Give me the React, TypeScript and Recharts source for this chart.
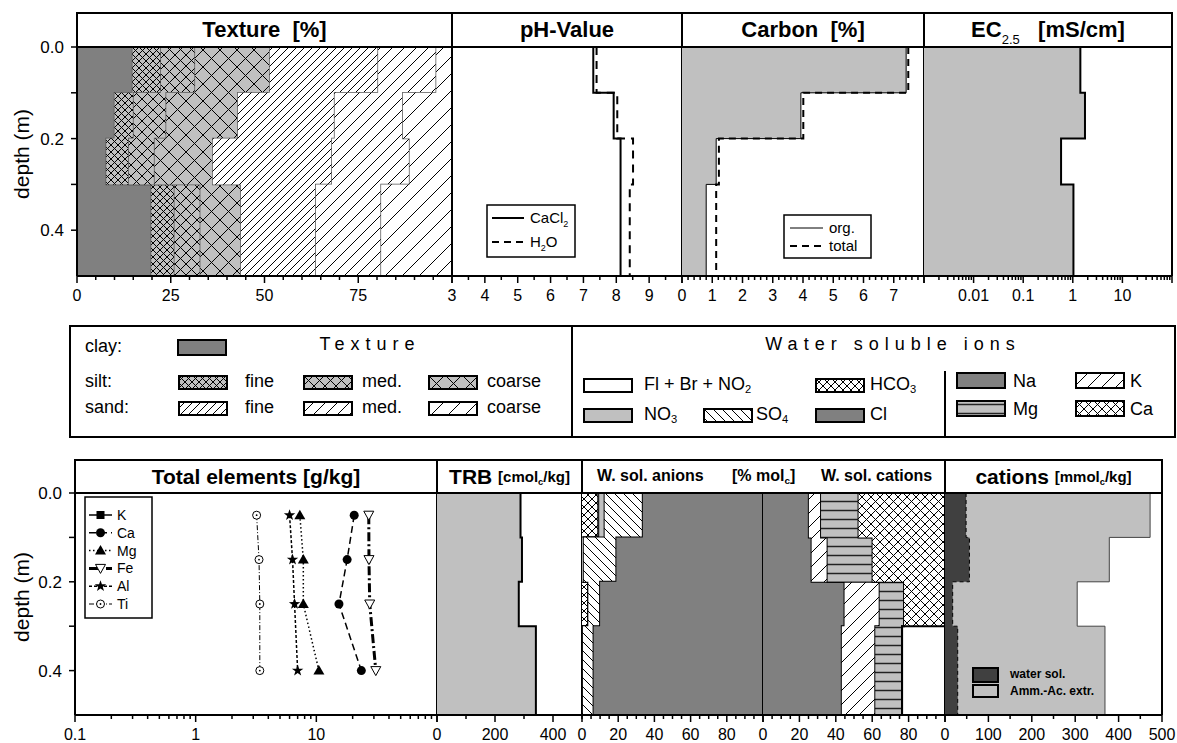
import React from "react";
import { ComposedChart, Area, Line, XAxis, YAxis } from "recharts";

const FONT = "'Liberation Sans', Arial, Helvetica, sans-serif";

// soil layers (m)
const layerTop = [0, 0.1, 0.2, 0.3];
const layerBottom = [0.1, 0.2, 0.3, 0.5];
const depthTicks = [0, 0.1, 0.2, 0.3, 0.4];
const depthLabels = [0, 0.2, 0.4];

// texture fractions [%] per layer
const clay = [14.8, 10.0, 7.8, 19.8];
const siltFine = [7.6, 5.1, 6.0, 6.2];
const siltMed = [9.1, 8.7, 6.9, 6.9];
const siltCoarse = [19.9, 19.1, 15.5, 10.8];
const sandFine = [28.9, 25.8, 31.8, 20.0];
const sandMed = [15.5, 18.2, 20.7, 17.4];
const sandCoarse = [4.2, 13.1, 11.3, 18.9];

// pH
const phCaCl2 = [7.3, 7.92, 8.13, 8.13];
const phH2O = [7.4, 8.03, 8.51, 8.41];

// carbon [%]
const carbonOrg = [7.41, 3.93, 1.13, 0.8];
const carbonTotal = [7.48, 4.01, 1.22, 1.13];

// EC 2.5 [mS/cm]
const ec25 = [1.42, 1.76, 0.58, 1.03];

// total elements [g/kg] at the sample depths
const elementDepth = [0.05, 0.15, 0.25, 0.4];
const elCa = [20.6, 18.0, 15.4, 23.6];
const elMg = [7.3, 7.8, 7.8, 10.5];
const elFe = [27.2, 27.3, 27.7, 31.1];
const elAl = [6.0, 6.35, 6.6, 7.0];
const elTi = [3.2, 3.35, 3.4, 3.4];

// TRB [cmolc/kg]
const trb = [288, 293, 282, 341];

// water soluble anions [% molc]
const anHCO3 = [9.0, 0, 3.5, 0];
const anFlBrNO2 = [0.5, 1.0, 0, 0.5];
const anNO3 = [3.0, 0, 0, 0];
const anSO4 = [21.1, 18.0, 6.5, 5.9];
const anCl = [66.4, 81.0, 90.0, 93.6];

// water soluble cations [% molc]
const catNa = [25.2, 26.7, 44.8, 43.3];
const catK = [6.7, 8.8, 19.3, 18.4];
const catMg = [20.6, 24.7, 13.4, 14.7];
const catCa = [47.5, 39.8, 22.5, 0];

// cations [mmolc/kg]
const cationWater = [48.6, 56.3, 17.7, 29.3];
const cationAmmAc = [472.6, 378.6, 304.6, 368.6];

// axis ticks
const textureMajors = [0, 25, 50, 75, 100];
const phMajors = [3, 4, 5, 6, 7, 8, 9, 10];
const carbonMajors = [0, 1, 2, 3, 4, 5, 6, 7, 8];
const ecDecades = [0.001, 0.01, 0.1, 1, 10, 100];
const elementDecades = [0.1, 1, 10, 100];
const trbMajors = [0, 200, 400];
const pctMajors = [0, 20, 40, 60, 80, 100];
const cationMajors = [0, 100, 200, 300, 400, 500];

const near = (a: number, b: number) =>
  Math.abs(a - b) <= 1e-9 * Math.max(1, Math.abs(a), Math.abs(b));

const steps = (a: number, b: number, d: number) => {
  const out: number[] = [];
  const n = Math.round((b - a) / d);
  for (let i = 0; i <= n; i++) out.push(Math.round((a + i * d) * 1e6) / 1e6);
  return out;
};

const logSteps = (decades: number[]) =>
  decades.flatMap((d, i) =>
    i === decades.length - 1
      ? [d]
      : [1, 2, 3, 4, 5, 6, 7, 8, 9].map((m) => Number((d * m).toPrecision(6)))
  );

// each layer becomes two rows (top and bottom) so the profile is drawn as steps
function stepRows(cols: Record<string, number[]>) {
  const rows: Record<string, number>[] = [];
  layerTop.forEach((top, i) => {
    const v: Record<string, number> = {};
    Object.keys(cols).forEach((k) => (v[k] = cols[k][i]));
    rows.push({ depth: top, ...v }, { depth: layerBottom[i], ...v });
  });
  return rows;
}

const textureRows = stepRows({ clay, siltFine, siltMed, siltCoarse, sandFine, sandMed, sandCoarse });
const phRows = stepRows({ cacl2: phCaCl2, h2o: phH2O });
const carbonRows = stepRows({ org: carbonOrg, total: carbonTotal });
const ecRows = stepRows({ ec: ec25 });
const trbRows = stepRows({ trb });
const anionRows = stepRows({ hco3: anHCO3, fl: anFlBrNO2, no3: anNO3, so4: anSO4, cl: anCl });
const cationRows = stepRows({ na: catNa, k: catK, mg: catMg, ca: catCa });
const mmolRows = stepRows({ water: cationWater, ammac: cationAmmAc });
const elementRows = elementDepth.map((depth, i) => ({
  depth,
  Ca: elCa[i],
  Mg: elMg[i],
  Fe: elFe[i],
  Al: elAl[i],
  Ti: elTi[i],
}));

const texturePatterns: [string, string][] = [
  ["clay", "#808080"],
  ["siltFine", "url(#silt-f)"],
  ["siltMed", "url(#silt-m)"],
  ["siltCoarse", "url(#silt-c)"],
  ["sandFine", "url(#sand-f)"],
  ["sandMed", "url(#sand-m)"],
  ["sandCoarse", "url(#sand-c)"],
];

const anionFills: [string, string][] = [
  ["hco3", "url(#cross-w)"],
  ["fl", "#ffffff"],
  ["no3", "#c0c0c0"],
  ["so4", "url(#back-w)"],
  ["cl", "#808080"],
];

const cationFills: [string, string][] = [
  ["na", "#808080"],
  ["k", "url(#fwd-k)"],
  ["mg", "url(#horiz-mg)"],
  ["ca", "url(#cross-ca)"],
];

function Hatch({ id, s, bg, kind, sw = 1, stroke = "#000" }: { id: string; s: number; bg: string; kind: string; sw?: number; stroke?: string }) {
  const fwd = `M0,${s} L${s},0 M-1,1 L1,-1 M${s - 1},${s + 1} L${s + 1},${s - 1}`;
  const back = `M0,0 L${s},${s} M-1,${s - 1} L1,${s + 1} M${s - 1},-1 L${s + 1},1`;
  const horiz = `M0,${s / 2} L${s},${s / 2}`;
  const d = kind === "fwd" ? fwd : kind === "back" ? back : kind === "cross" ? `${fwd} ${back}` : horiz;
  return (
    <pattern id={id} patternUnits="userSpaceOnUse" width={s} height={s}>
      <rect width={s} height={s} fill={bg} />
      <path d={d} stroke={stroke} strokeWidth={sw} fill="none" />
    </pattern>
  );
}

function PatternDefs() {
  return (
    <svg width={0} height={0} style={{ position: "absolute" }}>
      <defs>
        <Hatch id="silt-f" s={7} bg="#c0c0c0" kind="cross" />
        <Hatch id="silt-m" s={11} bg="#c0c0c0" kind="cross" />
        <Hatch id="silt-c" s={17} bg="#c0c0c0" kind="cross" />
        <Hatch id="sand-f" s={8} bg="#ffffff" kind="fwd" />
        <Hatch id="sand-m" s={12} bg="#ffffff" kind="fwd" />
        <Hatch id="sand-c" s={17} bg="#ffffff" kind="fwd" />
        <Hatch id="cross-w" s={8} bg="#ffffff" kind="cross" />
        <Hatch id="back-w" s={9} bg="#ffffff" kind="back" />
        <Hatch id="fwd-k" s={14} bg="#ffffff" kind="fwd" />
        <Hatch id="horiz-mg" s={9} bg="#c0c0c0" kind="horiz" sw={1.5} stroke="#222" />
        <Hatch id="cross-ca" s={9} bg="#ffffff" kind="cross" />
        <Hatch id="lg-cross" s={8} bg="#ffffff" kind="cross" />
      </defs>
    </svg>
  );
}

const PAD = 18;
const Y_W = 60;
const X_H = 34;
const TOP = 14;

type PanelProps = {
  x0: number;
  x1: number;
  y0: number;
  y1: number;
  data: object[];
  domain: [number, number];
  log?: boolean;
  ticks: number[];
  majors: number[];
  label: (v: number) => string;
  depthAxis?: boolean;
  children: React.ReactNode;
};

function Panel({ x0, x1, y0, y1, data, domain, log, ticks, majors, label, depthAxis, children }: PanelProps) {
  const left = depthAxis ? PAD + Y_W : PAD;
  const width = x1 - x0 + left + PAD;
  const height = y1 - y0 + TOP + X_H;
  const renderTick = (p: any) => {
    const v = p.payload.value;
    const major = majors.some((m) => near(m, v));
    const text = major ? label(v) : "";
    return (
      <g key={`t-${p.index}`}>
        <line x1={p.x} x2={p.x} y1={p.y} y2={p.y + (major ? 7 : 4)} stroke="#000" strokeWidth={1.5} />
        {text && (
          <text x={p.x} y={p.y + 25} textAnchor="middle" fontSize={16} fontFamily={FONT} fill="#000">
            {text}
          </text>
        )}
      </g>
    );
  };
  return (
    <>
      <div style={{ position: "absolute", left: x0 - left, top: y0 - TOP }}>
        <ComposedChart
          layout="vertical"
          width={width}
          height={height}
          data={data}
          margin={{ top: TOP, right: PAD, bottom: 0, left: PAD }}
        >
          <XAxis
            type="number"
            scale={log ? "log" : "linear"}
            domain={domain}
            allowDataOverflow
            ticks={ticks}
            interval={0}
            tick={renderTick}
            tickLine={false}
            tickSize={0}
            tickMargin={0}
            height={X_H}
            axisLine={{ stroke: "#000", strokeWidth: 2 }}
          />
          <YAxis
            type="number"
            dataKey="depth"
            domain={[0, 0.5]}
            allowDataOverflow
            ticks={depthTicks}
            interval={0}
            width={depthAxis ? Y_W : 0}
            mirror={!depthAxis}
            tickSize={depthAxis ? 6 : 4}
            tickMargin={7}
            tickFormatter={(v: number) =>
              depthAxis && depthLabels.some((d) => near(d, v)) ? v.toFixed(1) : ""
            }
            tick={{ fontSize: 17, fill: "#000", fontFamily: FONT }}
            tickLine={{ stroke: "#000", strokeWidth: 1.5 }}
            axisLine={{ stroke: "#000", strokeWidth: 2 }}
          />
          {children}
        </ComposedChart>
      </div>
      <div style={{ position: "absolute", left: x1 - 1, top: y0, width: 2, height: y1 - y0, background: "#000" }} />
    </>
  );
}

function TitleBox({ x0, x1, y0, y1, children, size = 22 }: { x0: number; x1: number; y0: number; y1: number; children?: React.ReactNode; size?: number }) {
  return (
    <div
      style={{
        position: "absolute",
        left: x0 - 1,
        top: y0 - 1,
        width: x1 - x0 + 2,
        height: y1 - y0 + 2,
        boxSizing: "border-box",
        border: "2px solid #000",
        display: "flex",
        alignItems: "center",
        justifyContent: "center",
        fontWeight: 700,
        fontSize: size,
        whiteSpace: "pre",
        lineHeight: 1,
      }}
    >
      {children}
    </div>
  );
}

function Txt({ x, cy, size = 18, bold, spacing, center, children }: { x: number; cy: number; size?: number; bold?: boolean; spacing?: number; center?: boolean; children: React.ReactNode }) {
  return (
    <div
      style={{
        position: "absolute",
        left: x,
        top: cy,
        transform: center ? "translate(-50%, -55%)" : "translateY(-55%)",
        fontSize: size,
        fontWeight: bold ? 700 : 400,
        letterSpacing: spacing,
        whiteSpace: "pre",
        lineHeight: 1,
      }}
    >
      {children}
    </div>
  );
}

function Swatch({ x, y, fill, w = 50, h = 15 }: { x: number; y: number; fill: string; w?: number; h?: number }) {
  return (
    <svg width={w} height={h} style={{ position: "absolute", left: x, top: y }}>
      <rect x={1} y={1} width={w - 2} height={h - 2} fill={fill} stroke="#000" strokeWidth={2} />
    </svg>
  );
}

const sub = (t: string) => (
  <sub style={{ fontSize: "0.62em", verticalAlign: "-0.3em", lineHeight: 0 }}>{t}</sub>
);

function Marker({ kind, cx, cy }: { kind: string; cx: number; cy: number }) {
  if (kind === "K") return <rect x={cx - 4} y={cy - 4} width={8} height={8} fill="#000" />;
  if (kind === "Ca") return <circle cx={cx} cy={cy} r={4.5} fill="#000" />;
  if (kind === "Mg")
    return <path d={`M${cx},${cy - 5.5} L${cx + 5.5},${cy + 4} L${cx - 5.5},${cy + 4} Z`} fill="#000" />;
  if (kind === "Fe")
    return (
      <path
        d={`M${cx - 5},${cy - 4} L${cx + 5},${cy - 4} L${cx},${cy + 5} Z`}
        fill="#fff"
        stroke="#000"
        strokeWidth={1}
      />
    );
  if (kind === "Al") {
    const pts = Array.from({ length: 10 }, (_, i) => {
      const r = i % 2 ? 2.4 : 6;
      const a = ((-90 + i * 36) * Math.PI) / 180;
      return `${cx + r * Math.cos(a)},${cy + r * Math.sin(a)}`;
    });
    return <polygon points={pts.join(" ")} fill="#000" />;
  }
  return (
    <g>
      <circle cx={cx} cy={cy} r={4} fill="#fff" stroke="#000" strokeWidth={1} />
      <circle cx={cx} cy={cy} r={0.9} fill="#000" />
    </g>
  );
}

const elementStyles: { key: string; dash?: string; width: number }[] = [
  { key: "K", width: 1.5 },
  { key: "Ca", dash: "7 4", width: 1.5 },
  { key: "Mg", dash: "1.5 2.5", width: 1.5 },
  { key: "Fe", dash: "9 3 2 3", width: 3 },
  { key: "Al", dash: "3 2", width: 1.5 },
  { key: "Ti", dash: "5 2 1 2", width: 1 },
];

export default function App() {
  const textureTicks = steps(0, 100, 5);
  const phTicks = steps(3, 10, 0.5);
  const carbonTicks = steps(0, 8, 0.2);
  const ecTicks = logSteps(ecDecades);
  const elementTicks = logSteps(elementDecades);
  const trbTicks = steps(0, 500, 100);
  const pctTicks = steps(0, 100, 5);
  const mmolTicks = steps(0, 500, 50);

  return (
    <div
      style={{
        position: "absolute",
        left: 0,
        top: 0,
        width: 1177,
        height: 743,
        background: "#fff",
        fontFamily: FONT,
        color: "#000",
        overflow: "hidden",
      }}
    >
      <PatternDefs />

      {/* ---------- top row ---------- */}
      <Panel x0={77} x1={452} y0={47} y1={276} data={textureRows} domain={[0, 100]} ticks={textureTicks} majors={textureMajors} label={(v) => (v === 100 ? "" : String(v))} depthAxis>
        {texturePatterns.map(([key, fill]) => (
          <Area key={key} dataKey={key} stackId="tex" type="linear" fill={fill} fillOpacity={1} stroke="#555" strokeWidth={1.5} dot={false} activeDot={false} isAnimationActive={false} />
        ))}
      </Panel>

      <Panel x0={452} x1={682} y0={47} y1={276} data={phRows} domain={[3, 10]} ticks={phTicks} majors={phMajors} label={(v) => (v === 10 ? "" : String(v))}>
        <Line dataKey="cacl2" type="linear" stroke="#000" strokeWidth={2} dot={false} activeDot={false} isAnimationActive={false} />
        <Line dataKey="h2o" type="linear" stroke="#000" strokeWidth={2} strokeDasharray="8 6" dot={false} activeDot={false} isAnimationActive={false} />
      </Panel>

      <Panel x0={682} x1={924} y0={47} y1={276} data={carbonRows} domain={[0, 8]} ticks={carbonTicks} majors={carbonMajors} label={(v) => (v === 8 ? "" : String(v))}>
        <Area dataKey="org" type="linear" fill="#c0c0c0" fillOpacity={1} stroke="#000" strokeWidth={1} dot={false} activeDot={false} isAnimationActive={false} />
        <Line dataKey="total" type="linear" stroke="#000" strokeWidth={2} strokeDasharray="7 5" dot={false} activeDot={false} isAnimationActive={false} />
      </Panel>

      <Panel x0={924} x1={1172} y0={47} y1={276} data={ecRows} domain={[0.001, 100]} log ticks={ecTicks} majors={ecDecades} label={(v) => (v === 0.001 || v === 100 ? "" : String(v))}>
        <Area dataKey="ec" type="linear" fill="#c0c0c0" fillOpacity={1} stroke="#000" strokeWidth={2} dot={false} activeDot={false} isAnimationActive={false} />
      </Panel>

      <TitleBox x0={77} x1={452} y0={13} y1={47}>Texture  [%]</TitleBox>
      <TitleBox x0={452} x1={682} y0={13} y1={47}>pH-Value</TitleBox>
      <TitleBox x0={682} x1={924} y0={13} y1={47}>Carbon  [%]</TitleBox>
      <TitleBox x0={924} x1={1172} y0={13} y1={47}>
        <span>EC</span>
        <span style={{ fontSize: 13, position: "relative", top: 9, fontWeight: 400 }}>2.5</span>
        <span>   [mS/cm]</span>
      </TitleBox>

      <Txt x={21} cy={155} size={21} center>
        <div style={{ transform: "rotate(-90deg)" }}>depth (m)</div>
      </Txt>

      {/* pH legend */}
      <svg width={90} height={54} style={{ position: "absolute", left: 486, top: 204 }}>
        <rect x={1} y={1} width={88} height={52} fill="#fff" stroke="#000" strokeWidth={1.5} />
        <line x1={6} x2={38} y1={14} y2={14} stroke="#000" strokeWidth={2} />
        <text x={44} y={19} fontSize={15} fontFamily={FONT}>
          CaCl<tspan fontSize={9} dy={4}>2</tspan>
        </text>
        <line x1={6} x2={38} y1={38} y2={38} stroke="#000" strokeWidth={2} strokeDasharray="7 5" />
        <text x={44} y={43} fontSize={15} fontFamily={FONT}>
          H<tspan fontSize={9} dy={4}>2</tspan>
          <tspan dy={-4}>O</tspan>
        </text>
      </svg>

      {/* carbon legend */}
      <svg width={89} height={45} style={{ position: "absolute", left: 783, top: 214 }}>
        <rect x={1} y={1} width={87} height={43} fill="#fff" stroke="#000" strokeWidth={1.5} />
        <line x1={7} x2={40} y1={14} y2={14} stroke="#000" strokeWidth={1} />
        <text x={46} y={19} fontSize={15} fontFamily={FONT}>org.</text>
        <line x1={7} x2={40} y1={32} y2={32} stroke="#000" strokeWidth={2} strokeDasharray="7 5" />
        <text x={46} y={37} fontSize={15} fontFamily={FONT}>total</text>
      </svg>

      {/* ---------- legend box ---------- */}
      <div style={{ position: "absolute", left: 69, top: 325, width: 1107, height: 113, boxSizing: "border-box", border: "2px solid #000" }} />
      <div style={{ position: "absolute", left: 571, top: 325, width: 2, height: 113, background: "#000" }} />
      <div style={{ position: "absolute", left: 944, top: 371, width: 1.5, height: 66, background: "#000" }} />

      <Txt x={85} cy={347}>clay:</Txt>
      <Txt x={85} cy={382}>silt:</Txt>
      <Txt x={85} cy={408}>sand:</Txt>
      <Txt x={370} cy={345} spacing={6} center>Texture</Txt>
      <Swatch x={177} y={339} h={17} fill="#808080" />
      <Swatch x={178} y={375} fill="url(#silt-f)" />
      <Swatch x={303} y={375} fill="url(#silt-m)" />
      <Swatch x={428} y={375} fill="url(#silt-c)" />
      <Swatch x={178} y={401} fill="url(#sand-f)" />
      <Swatch x={303} y={401} fill="url(#sand-m)" />
      <Swatch x={428} y={401} fill="url(#sand-c)" />
      <Txt x={245} cy={382}>fine</Txt>
      <Txt x={362} cy={382}>med.</Txt>
      <Txt x={487} cy={382}>coarse</Txt>
      <Txt x={245} cy={408}>fine</Txt>
      <Txt x={362} cy={408}>med.</Txt>
      <Txt x={487} cy={408}>coarse</Txt>

      <Txt x={893} cy={345} spacing={6} center>Water soluble ions</Txt>
      <Swatch x={583} y={378} fill="#ffffff" />
      <Swatch x={583} y={408} fill="#c0c0c0" />
      <Swatch x={703} y={408} fill="url(#back-w)" />
      <Swatch x={815} y={378} fill="url(#lg-cross)" />
      <Swatch x={815} y={408} fill="#808080" />
      <Txt x={644} cy={385}>Fl + Br + NO{sub("2")}</Txt>
      <Txt x={644} cy={415}>NO{sub("3")}</Txt>
      <Txt x={756} cy={415}>SO{sub("4")}</Txt>
      <Txt x={870} cy={385}>HCO{sub("3")}</Txt>
      <Txt x={870} cy={415}>Cl</Txt>
      <Swatch x={956} y={372} h={17} fill="#808080" />
      <Swatch x={956} y={400} h={17} fill="url(#horiz-mg)" />
      <Swatch x={1075} y={372} h={17} fill="url(#fwd-k)" />
      <Swatch x={1075} y={400} h={17} fill="url(#cross-ca)" />
      <Txt x={1013} cy={382}>Na</Txt>
      <Txt x={1013} cy={410}>Mg</Txt>
      <Txt x={1130} cy={382}>K</Txt>
      <Txt x={1130} cy={410}>Ca</Txt>

      {/* ---------- bottom row ---------- */}
      <Panel x0={75} x1={437} y0={493} y1={715} data={elementRows} domain={[0.1, 100]} log ticks={elementTicks} majors={elementDecades} label={(v) => (v === 100 ? "" : String(v))} depthAxis>
        {elementStyles
          .filter((s) => s.key !== "K")
          .map((s) => (
            <Line
              key={s.key}
              dataKey={s.key}
              type="linear"
              stroke="#000"
              strokeWidth={s.width}
              strokeDasharray={s.dash}
              dot={(p: any) => <Marker key={`${s.key}-${p.index}`} kind={s.key} cx={p.cx} cy={p.cy} />}
              activeDot={false}
              isAnimationActive={false}
            />
          ))}
      </Panel>

      <Panel x0={437} x1={582} y0={493} y1={715} data={trbRows} domain={[0, 500]} ticks={trbTicks} majors={trbMajors} label={(v) => String(v)}>
        <Area dataKey="trb" type="linear" fill="#c0c0c0" fillOpacity={1} stroke="#000" strokeWidth={2} dot={false} activeDot={false} isAnimationActive={false} />
      </Panel>

      <Panel x0={582} x1={763} y0={493} y1={715} data={anionRows} domain={[0, 100]} ticks={pctTicks} majors={pctMajors} label={(v) => (v === 100 ? "" : String(v))}>
        {anionFills.map(([key, fill]) => (
          <Area key={key} dataKey={key} stackId="an" type="linear" fill={fill} fillOpacity={1} stroke="#000" strokeWidth={2} dot={false} activeDot={false} isAnimationActive={false} />
        ))}
      </Panel>

      <Panel x0={763} x1={945} y0={493} y1={715} data={cationRows} domain={[0, 100]} ticks={pctTicks} majors={pctMajors} label={(v) => (v === 100 ? "" : String(v))}>
        {cationFills.map(([key, fill]) => (
          <Area key={key} dataKey={key} stackId="cat" type="linear" fill={fill} fillOpacity={1} stroke="#000" strokeWidth={2} dot={false} activeDot={false} isAnimationActive={false} />
        ))}
      </Panel>

      <Panel x0={945} x1={1162} y0={493} y1={715} data={mmolRows} domain={[0, 500]} ticks={mmolTicks} majors={cationMajors} label={(v) => String(v)}>
        <Area dataKey="ammac" type="linear" fill="#c0c0c0" fillOpacity={1} stroke="#444" strokeWidth={1} dot={false} activeDot={false} isAnimationActive={false} />
        <Area dataKey="water" type="linear" fill="#404040" fillOpacity={1} stroke="#000" strokeWidth={1} strokeDasharray="4 3" dot={false} activeDot={false} isAnimationActive={false} />
      </Panel>

      <TitleBox x0={75} x1={437} y0={460} y1={493} size={21}>Total elements [g/kg]</TitleBox>
      <TitleBox x0={437} x1={582} y0={460} y1={493} size={21}>
        TRB <span style={{ fontSize: 15 }}>[cmol{sub("c")}/kg]</span>
      </TitleBox>
      <TitleBox x0={582} x1={945} y0={460} y1={493} />
      <Txt x={597} cy={477} size={16} bold>W. sol. anions</Txt>
      <Txt x={732} cy={477} size={16} bold>[% mol{sub("c")}]</Txt>
      <Txt x={821} cy={477} size={16} bold>W. sol. cations</Txt>
      <TitleBox x0={945} x1={1162} y0={460} y1={493} size={21}>
        cations <span style={{ fontSize: 15 }}>[mmol{sub("c")}/kg]</span>
      </TitleBox>

      <Txt x={21} cy={598} size={21} center>
        <div style={{ transform: "rotate(-90deg)" }}>depth (m)</div>
      </Txt>

      {/* total elements legend */}
      <svg width={69} height={123} style={{ position: "absolute", left: 84, top: 496 }}>
        <rect x={1} y={1} width={67} height={121} fill="#fff" stroke="#000" strokeWidth={1.5} />
        {elementStyles.map((s, i) => {
          const y = 19 + i * 17.8;
          return (
            <g key={s.key}>
              <line x1={5} x2={28} y1={y} y2={y} stroke="#000" strokeWidth={s.width} strokeDasharray={s.dash} />
              <Marker kind={s.key} cx={16.5} cy={y} />
              <text x={33} y={y + 5} fontSize={14} fontFamily={FONT}>
                {s.key}
              </text>
            </g>
          );
        })}
      </svg>

      {/* cations legend */}
      <Swatch x={972} y={667} w={27} h={16} fill="#404040" />
      <Swatch x={972} y={684} w={27} h={14} fill="#c0c0c0" />
      <Txt x={1010} cy={675} size={12} bold>water sol.</Txt>
      <Txt x={1010} cy={692} size={12} bold>Amm.-Ac. extr.</Txt>
    </div>
  );
}
